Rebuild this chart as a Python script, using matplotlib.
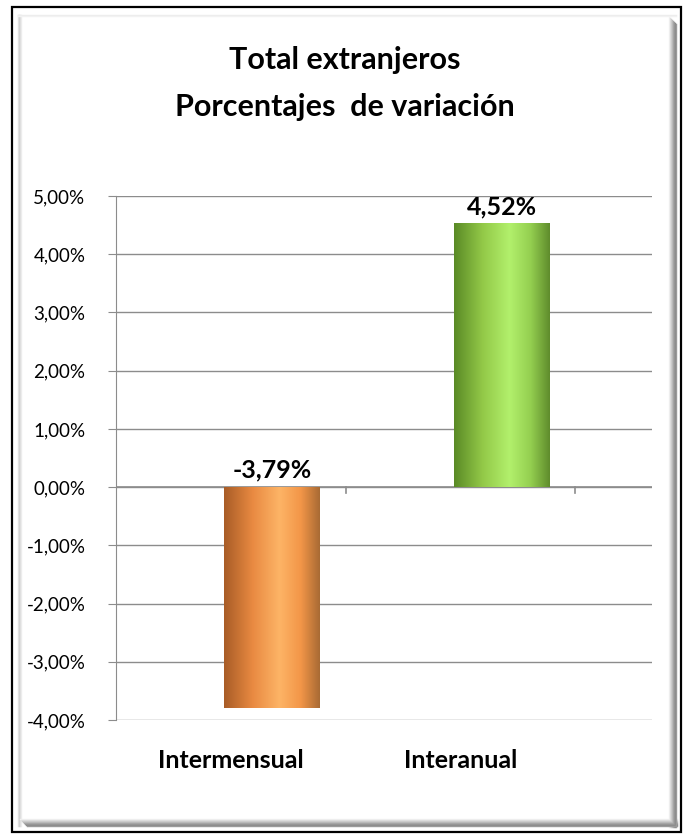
import numpy as np
import matplotlib
matplotlib.use("Agg")
import matplotlib.pyplot as plt
from matplotlib.colors import LinearSegmentedColormap
from matplotlib.patches import Rectangle
from matplotlib.lines import Line2D
from matplotlib.ticker import FuncFormatter, MultipleLocator

categories = ["Intermensual", "Interanual"]
values = [-3.79, 4.52]
value_labels = ["-3,79%", "4,52%"]
title_lines = ["Total extranjeros", "Porcentajes  de variación"]

plt.rcParams['font.family'] = ['Lato', 'DejaVu Sans']

W, H = 688, 834
fig = plt.figure(figsize=(W / 100, H / 100), dpi=100)

# frame (figure pixel coords)
bg = fig.add_axes([0, 0, 1, 1])
bg.set_xlim(0, W)
bg.set_ylim(H, 0)
bg.axis("off")
bg.add_patch(Rectangle((12, 7), 669, 825, fill=False, ec="black", lw=1.6))
for i, c in enumerate(["#e4e4e4", "#d0d0d0", "#dcdcdc", "#ececec"]):
    bg.add_line(Line2D([18 + i, 18 + i], [15, 826], color=c, lw=1))
for i, c in enumerate(["#ececec", "#f2f2f2"]):
    bg.add_line(Line2D([18, 676], [15 + i, 15 + i], color=c, lw=1))
for i, c in enumerate(["#f2f2f2", "#e0e0e0", "#cfcfcf", "#bdbdbd", "#a9a9a9", "#999999", "#8a8a8a", "#9a9a9a"]):
    bg.add_line(Line2D([669 + i, 669 + i], [17 + i, 827], color=c, lw=1))
    bg.add_line(Line2D([20 + i, 677], [819 + i, 819 + i], color=c, lw=1))

# title
fig.text(345 / W, 1 - 60 / H, title_lines[0], ha="center", va="center",
         fontsize=22, fontweight="bold")
fig.text(345 / W, 1 - 107 / H, title_lines[1], ha="center", va="center",
         fontsize=22, fontweight="bold")

ax = fig.add_axes([116 / W, 1 - 720 / H, 536 / W, 524 / H])
x0 = -0.5
x1 = x0 + 536 / 229.5

for s in ["top", "right", "bottom"]:
    ax.spines[s].set_visible(False)
ax.spines["left"].set_color("#8c8c8c")

ax.yaxis.set_major_locator(MultipleLocator(1))
ax.yaxis.set_major_formatter(FuncFormatter(lambda v, p: f"{v:.2f}%".replace(".", ",")))
ax.tick_params(axis="y", labelsize=13.5, length=6, color="#8c8c8c", pad=16)
ax.grid(axis="y", color="#8c8c8c", lw=1)
ax.set_axisbelow(True)
ax.set_xticks([])

# zero line with category ticks
ax.axhline(0, color="#8c8c8c", lw=1.2, zorder=1)
for t in [0.5, 1.5]:
    ax.plot([t, t], [0, -0.1], color="#8c8c8c", lw=1.2, clip_on=False, zorder=1)

# gradient bars (offset to mimic 3D depth)
offset = 0.18
bw = 0.415
cmaps = [
    LinearSegmentedColormap.from_list("o", [(0, "#a85c26"), (0.3, "#e98a42"), (0.58, "#fdb466"),
                                            (0.8, "#f39648"), (1, "#a86a34")]),
    LinearSegmentedColormap.from_list("g", [(0, "#5a8a26"), (0.3, "#93c948"), (0.58, "#b2f06c"),
                                            (0.8, "#94cf50"), (1, "#5f8c2c")]),
]
grad = np.linspace(0, 1, 256).reshape(1, -1)
for i, (v, cm) in enumerate(zip(values, cmaps)):
    xc = i + offset
    bars = ax.bar(xc, v, width=bw, color="none", zorder=3)
    b = bars[0]
    xl = b.get_x()
    y_lo, y_hi = sorted([0, v])
    ax.imshow(grad, cmap=cm, aspect="auto", extent=[xl, xl + bw, y_lo, y_hi], zorder=3,
              interpolation="bicubic")
    ty = max(v, 0) + 0.3
    ax.text(xc, ty, value_labels[i], ha="center", va="center", fontsize=18, fontweight="bold", zorder=5)

ax.set_xlim(x0, x1)
ax.set_ylim(-4, 5)

for i, c in enumerate(categories):
    ax.text(i, -4.7, c, ha="center", va="center", fontsize=18, fontweight="bold",
            clip_on=False)

fig.savefig("out.png", dpi=100)
